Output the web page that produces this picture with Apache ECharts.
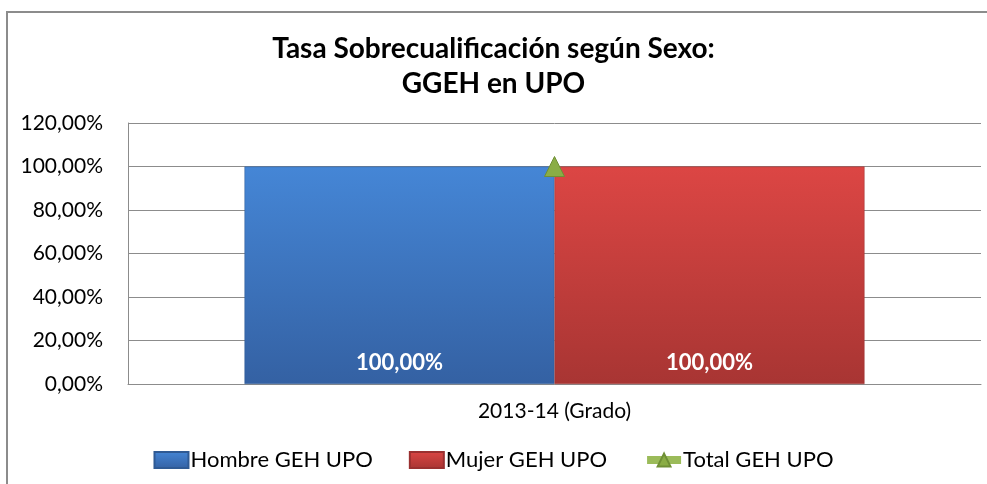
<!DOCTYPE html>
<html>
<head>
<meta charset="utf-8">
<script src="https://cdn.jsdelivr.net/npm/echarts@6/dist/echarts.min.js"></script>
<style>
  html, body { margin: 0; padding: 0; background: #fff; }
  #chart { width: 987px; height: 484px; }
</style>
</head>
<body>
<div id="chart"></div>
<script>
const categories = ["2013-14 (Grado)"];
const hombre = [100];
const mujer = [100];
const total = [100];
const seriesNames = ["Hombre GEH UPO", "Mujer GEH UPO", "Total GEH UPO"];

const chart = echarts.init(document.getElementById("chart"));
const font = "Lato, 'Open Sans', sans-serif";
const pct = v => v.toFixed(2).replace(".", ",") + "%";

const grad = (top, bottom) => new echarts.graphic.LinearGradient(0, 0, 0, 1, [
  { offset: 0, color: top },
  { offset: 1, color: bottom },
]);

const option = {
  animation: false,
  textStyle: { fontFamily: font },
  title: {
    text: "Tasa Sobrecualificación según Sexo:\nGGEH en UPO",
    left: "center",
    top: 26,
    textStyle: { fontFamily: font, fontSize: 28, fontWeight: "bold", color: "#000", lineHeight: 35 },
  },
  graphic: [
    {
      type: "rect",
      shape: { x: 7, y: 12, width: 1000, height: 500 },
      style: { fill: null, stroke: "#8c8c8c", lineWidth: 2 },
      silent: true,
    },
  ],
  legend: {
    bottom: 8,
    left: "center",
    itemGap: 36,
    itemWidth: 34,
    itemHeight: 16,
    textStyle: { fontSize: 22, color: "#000", fontFamily: font, padding: [0, 0, 0, -3] },
    data: [
      { name: seriesNames[0], icon: "rect" },
      { name: seriesNames[1], icon: "rect" },
      { name: seriesNames[2], lineStyle: { width: 8, color: "#9bbb59" } },
    ],
  },
  grid: { left: 128, right: 6, top: 123, bottom: 100 },
  xAxis: {
    type: "category",
    data: categories,
    axisLine: { lineStyle: { color: "#8c8c8c", width: 1 } },
    axisTick: { show: false },
    axisLabel: { fontSize: 21, color: "#000", margin: 17 },
  },
  yAxis: {
    type: "value",
    min: 0,
    max: 120,
    interval: 20,
    axisLine: { show: true, lineStyle: { color: "#8c8c8c" } },
    axisTick: { show: false },
    axisLabel: { fontSize: 21, color: "#000", margin: 25, formatter: v => pct(v) },
    splitLine: { lineStyle: { color: "#8c8c8c", width: 1 } },
  },
  series: [
    {
      name: seriesNames[0],
      type: "bar",
      data: hombre,
      barWidth: 310,
      barGap: "0%",
      itemStyle: { color: grad("#4586d6", "#3461a3"), borderColor: "#2f5a94", borderWidth: 0.5 },
      label: {
        show: true,
        position: "insideBottom",
        distance: 10,
        formatter: p => pct(p.value),
        color: "#fff",
        fontSize: 22,
        fontWeight: "bold",
      },
    },
    {
      name: seriesNames[1],
      type: "bar",
      data: mujer,
      barWidth: 310,
      barGap: "0%",
      itemStyle: { color: grad("#dc4644", "#a83533"), borderColor: "#9a3030", borderWidth: 0.5 },
      label: {
        show: true,
        position: "insideBottom",
        distance: 10,
        formatter: p => pct(p.value),
        color: "#fff",
        fontSize: 22,
        fontWeight: "bold",
      },
    },
    {
      name: seriesNames[2],
      type: "line",
      data: total,
      symbol: "triangle",
      symbolSize: 20,
      lineStyle: { color: "#9bbb59", width: 8 },
      itemStyle: { color: "#8aad45", borderColor: "#6f8f35", borderWidth: 1 },
      z: 5,
    },
  ],
};

chart.setOption(option);
</script>
</body>
</html>
